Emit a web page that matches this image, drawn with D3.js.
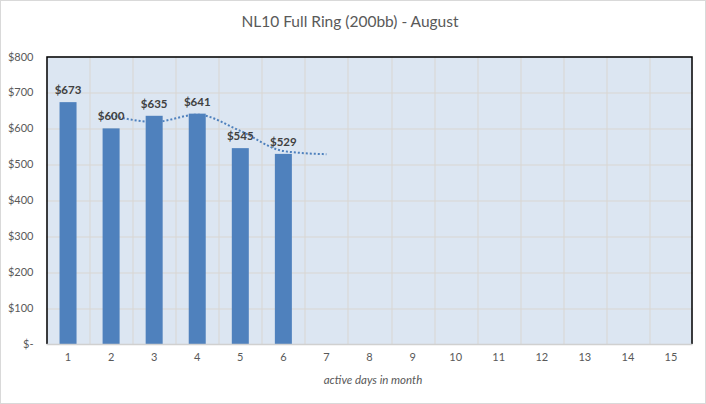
<!DOCTYPE html>
<html>
<head>
<meta charset="utf-8">
<script src="https://cdn.jsdelivr.net/npm/d3@7"></script>
<style>
  body { margin: 0; background: #fff; }
  svg { display: block; font-family: Lato, "Open Sans", sans-serif; }
</style>
</head>
<body>
<div id="chart"></div>
<script>
// Chart data
const days = [1, 2, 3, 4, 5, 6, 7, 8, 9, 10, 11, 12, 13, 14, 15];
const winDays = [1, 2, 3, 4, 5, 6];
const winnings = [673, 600, 635, 641, 545, 529];
const trendDays = [2, 3, 4, 5, 6, 7];
const trendValues = [636, 618, 638, 593, 537, 528];
const yTicks = [0, 100, 200, 300, 400, 500, 600, 700, 800];

const svgWidth = 706, svgHeight = 404;
const margin = { top: 56.5, right: 13.5, bottom: 60, left: 46.5 };
const width = svgWidth - margin.left - margin.right;
const height = svgHeight - margin.top - margin.bottom;

const svg = d3.select('#chart')
    .append('svg')
    .attr('width', svgWidth)
    .attr('height', svgHeight);

// Outer chart border
svg.append('rect')
    .attr('x', 0.5).attr('y', 0.5)
    .attr('width', svgWidth - 1).attr('height', svgHeight - 1)
    .attr('fill', '#fff')
    .attr('stroke', '#d9d9d9');

// Title
svg.append('text')
    .attr('x', 350)
    .attr('y', 27)
    .attr('text-anchor', 'middle')
    .style('font-size', '15.5px')
    .style('fill', '#595959')
    .text('NL10 Full Ring (200bb) - August');

const g = svg.append('g')
    .attr('transform', `translate(${margin.left},${margin.top})`);

// Scales
const xScale = d3.scaleBand()
    .domain(days)
    .range([0, width])
    .paddingInner(0)
    .paddingOuter(0);
const yScale = d3.scaleLinear()
    .domain([0, 800])
    .range([height, 0]);

// Plot area
g.append('rect')
    .attr('width', width)
    .attr('height', height)
    .attr('fill', '#dce6f2');

// Horizontal gridlines
g.selectAll('.hgrid')
    .data(yTicks.slice(1))
    .enter()
    .append('line')
    .attr('x1', 0).attr('x2', width)
    .attr('y1', d => Math.round(yScale(d)) + 0.5)
    .attr('y2', d => Math.round(yScale(d)) + 0.5)
    .attr('stroke', '#d9d6d2');

// Vertical gridlines at category boundaries
g.selectAll('.vgrid')
    .data(days.slice(1))
    .enter()
    .append('line')
    .attr('x1', d => Math.round(xScale(d)) + 0.5)
    .attr('x2', d => Math.round(xScale(d)) + 0.5)
    .attr('y1', 0).attr('y2', height)
    .attr('stroke', '#d9d6d2');

// Trend line (behind bars)
const line = d3.line()
    .x((d, i) => xScale(trendDays[i]) + xScale.bandwidth() / 2)
    .y(d => yScale(d))
    .curve(d3.curveMonotoneX);
g.append('path')
    .datum(trendValues)
    .attr('d', line)
    .attr('fill', 'none')
    .attr('stroke', '#4f81bd')
    .attr('stroke-width', 2)
    .attr('stroke-dasharray', '2,2');

// Bars
const barW = 17;
g.selectAll('.bar')
    .data(winnings)
    .enter()
    .append('rect')
    .attr('x', (d, i) => xScale(winDays[i]) + xScale.bandwidth() / 2 - barW / 2)
    .attr('y', d => yScale(d))
    .attr('width', barW)
    .attr('height', d => height - yScale(d))
    .attr('fill', '#4f81bd');

// Data labels
g.selectAll('.lbl')
    .data(winnings)
    .enter()
    .append('text')
    .attr('x', (d, i) => xScale(winDays[i]) + xScale.bandwidth() / 2)
    .attr('y', d => yScale(d) - 8)
    .attr('text-anchor', 'middle')
    .style('font-size', '11.5px')
    .style('font-weight', 'bold')
    .style('fill', '#404040')
    .text(d => '$' + d);

// Plot border: left, top, right black; bottom gray axis line
g.append('path')
    .attr('d', `M0.5,${height}V0.5H${width - 0.5}V${height}`)
    .attr('fill', 'none')
    .attr('stroke', '#000')
    .attr('stroke-width', 1.5);
g.append('line')
    .attr('x1', 0).attr('x2', width)
    .attr('y1', height + 0.5).attr('y2', height + 0.5)
    .attr('stroke', '#d0d0d0')
    .attr('stroke-width', 1.5);

// Y axis labels
const yAxis = g.append('g')
    .call(d3.axisLeft(yScale)
        .tickValues(yTicks)
        .tickSize(0)
        .tickPadding(13)
        .tickFormat(d => d === 0 ? '$-' : '$' + d));
yAxis.select('.domain').remove();
yAxis.selectAll('text')
    .style('font-family', 'Lato, "Open Sans", sans-serif')
    .style('font-size', '11px')
    .style('fill', '#595959');

// X axis labels
const xAxis = g.append('g')
    .attr('transform', `translate(0,${height})`)
    .call(d3.axisBottom(xScale).tickSize(0).tickPadding(9));
xAxis.select('.domain').remove();
xAxis.selectAll('text')
    .style('font-family', 'Lato, "Open Sans", sans-serif')
    .style('font-size', '11px')
    .style('fill', '#595959');

// X axis title
svg.append('text')
    .attr('x', 373)
    .attr('y', 384)
    .attr('text-anchor', 'middle')
    .style('font-size', '11.5px')
    .style('font-style', 'italic')
    .style('fill', '#595959')
    .text('active days in month');
</script>
</body>
</html>
